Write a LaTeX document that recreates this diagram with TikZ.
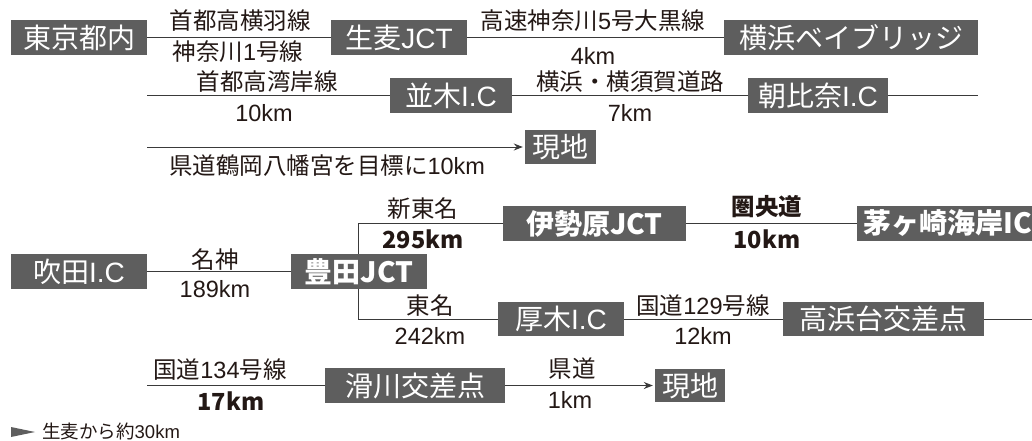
\documentclass[tikz,border=0pt]{standalone}
\usepackage{fontspec}
\setmainfont{Noto Sans CJK JP}
\newfontfamily\lat{Liberation Sans}
\usetikzlibrary{backgrounds,arrows.meta}
\definecolor{boxgray}{HTML}{5E5E5E}
\definecolor{ink}{HTML}{231815}
\definecolor{linec}{HTML}{3A3A3A}
\tikzset{
 place/.style={fill=boxgray,text=white,inner sep=0pt,minimum height=35pt,font=\fontsize{28}{30}\selectfont},
 placeb/.style={place,font=\fontsize{28}{30}\selectfont\bfseries},
 lbl/.style={text=ink,inner sep=0pt,font=\fontsize{23.5}{25}\selectfont},
 lblb/.style={lbl,font=\fontsize{23.5}{25}\selectfont\bfseries},
 road/.style={draw=linec,line width=1pt},
 toarrow/.style={road,-{Stealth[length=9pt,width=7pt]},shorten >=2pt},
}
\begin{document}
\begin{tikzpicture}[x=1pt,y=-1pt]
\useasboundingbox (0,0) rectangle (1032,441);
% places
\node[place,minimum width=136pt] (tokyo) at (79,37.5) {東京都内};
\node[place,minimum width=136pt] (namamugi) at (399,37.5) {生麦{\lat JCT}};
\node[place,minimum width=254pt] (bay) at (851,37.5) {横浜ベイブリッジ};
\node[place,minimum width=122pt] (namiki) at (451,95.5) {並木{\lat I.C}};
\node[place,minimum width=140pt] (asahina) at (818,95.5) {朝比奈{\lat I.C}};
\node[place,minimum width=71pt,minimum height=34pt] (genchiA) at (560.5,147) {現地};
\node[place,minimum width=136pt] (suita) at (79,271.5) {吹田{\lat I.C}};
\node[placeb,minimum width=136pt] (toyota) at (359,271.5) {豊田JCT};
\node[placeb,minimum width=183pt] (isehara) at (594.5,223.5) {伊勢原JCT};
\node[placeb,anchor=west,inner xsep=6pt] (chigasaki) at (857,223.5) {茅ヶ崎海岸IC\hspace{30pt}};
\node[place,minimum width=126pt,minimum height=34pt] (atsugi) at (561,319) {厚木{\lat I.C}};
\node[place,minimum width=201pt,minimum height=34pt] (takahama) at (883.5,319) {高浜台交差点};
\node[place,minimum width=180pt] (namerikawa) at (415,385.5) {滑川交差点};
\node[place,minimum width=70pt,minimum height=33pt] (genchiB) at (690,385.5) {現地};
% free ends
\coordinate (r2s) at (147,95.5);
\coordinate (r2e) at (978,95.5);
\coordinate (r3s) at (147,147);
\coordinate (br) at (358,0);
\coordinate (r4e) at (1040,319);
\coordinate (r5s) at (147,385.5);
% roads
\begin{scope}[on background layer]
\draw[road] (tokyo) -- (namamugi);
\draw[road] (namamugi) -- (bay);
\draw[road] (r2s) -- (namiki.west);
\draw[road] (namiki) -- (asahina);
\draw[road] (asahina.east) -- (r2e);
\draw[toarrow] (r3s) -- (genchiA.west);
\draw[road] (suita) -- (toyota);
\draw[road] (isehara.west) -| (br |- atsugi.west) -- (atsugi.west);
\draw[road] (isehara) -- (chigasaki);
\draw[road] (atsugi) -- (takahama);
\draw[road] (takahama.east) -- (r4e);
\draw[road] (r5s) -- (namerikawa.west);
\draw[toarrow] (namerikawa) -- (genchiB);
\end{scope}
% labels
\node[lbl] (l1a) at (240,21) {首都高横羽線};
\node[lbl] (l1b) at (238,51.5) {神奈川{\lat 1}号線};
\node[lbl] (l2a) at (593,21) {高速神奈川{\lat 5}号大黒線};
\node[lbl] (l2b) at (593,56) {\lat 4km};
\node[lbl] (l3a) at (267,82) {首都高湾岸線};
\node[lbl] (l3b) at (264,113) {\lat 10km};
\node[lbl] (l4a) at (630,82) {横浜・横須賀道路};
\node[lbl] (l4b) at (630,113) {\lat 7km};
\node[lbl] (l5) at (327,166) {県道鶴岡八幡宮を目標に{\lat 10km}};
\node[lbl] (l6a) at (215,260) {名神};
\node[lbl] (l6b) at (215,289) {\lat 189km};
\node[lbl] (l7a) at (423,209) {新東名};
\node[lblb] (l7b) at (423,239) {295km};
\node[lblb] (l8a) at (767,207) {圏央道};
\node[lblb] (l8b) at (767,239) {10km};
\node[lbl] (l9a) at (430,306) {東名};
\node[lbl] (l9b) at (430,336) {\lat 242km};
\node[lbl] (l10a) at (703,306) {国道{\lat 129}号線};
\node[lbl] (l10b) at (703,336) {\lat 12km};
\node[lbl] (l11a) at (220,370) {国道{\lat 134}号線};
\node[lblb] (l11b) at (231,401) {17km};
\node[lbl] (l12a) at (572,369) {県道};
\node[lbl] (l12b) at (570,400) {\lat 1km};
% footnote
\fill[boxgray] (11,427) -- (35,432) -- (11,437) -- cycle;
\node[lbl,anchor=west,font=\fontsize{18.5}{20}\selectfont] (note) at (42,431.5) {生麦から約{\lat 30km}};
\end{tikzpicture}
\end{document}
